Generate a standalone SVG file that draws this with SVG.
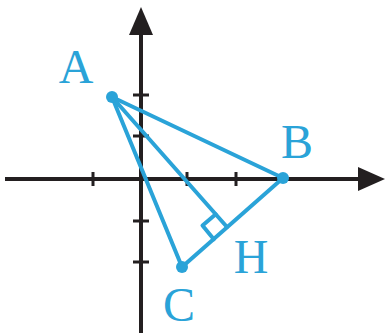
<svg xmlns="http://www.w3.org/2000/svg" width="387" height="333" viewBox="0 0 387 333">
<style>
.ax{stroke:#231f20;stroke-width:4;fill:none}
.tk{stroke:#231f20;stroke-width:3}
.bl{stroke:#2aa3d8;stroke-width:4;fill:none;stroke-linejoin:round;stroke-linecap:round}
.dot{fill:#2aa3d8}
.lb{font-family:'Liberation Serif','DejaVu Serif',serif;font-size:48px;fill:#2aa3d8;text-anchor:middle}
</style>
<rect width="387" height="333" fill="#fff"/>
<g id="axes">
<line class="ax" x1="5" y1="179" x2="360" y2="179"/>
<polygon points="358,167 385,179 358,191" fill="#231f20"/>
<line class="ax" x1="141" y1="333" x2="141" y2="33"/>
<polygon points="129,35 141,7 153,35" fill="#231f20"/>
<g class="tk">
<line x1="93" y1="172" x2="93" y2="186"/>
<line x1="187" y1="172" x2="187" y2="186"/>
<line x1="236" y1="172" x2="236" y2="186"/>
<line x1="133" y1="95" x2="149" y2="95"/>
<line x1="133" y1="136" x2="149" y2="136"/>
<line x1="133" y1="221" x2="149" y2="221"/>
<line x1="133" y1="262" x2="149" y2="262"/>
</g>
</g>
<g id="connectors">
<polygon class="bl" points="112,97 283,178 182,267"/>
<line class="bl" x1="112" y1="97" x2="227" y2="227"/>
<polyline class="bl" points="215.7,214.3 202.5,225.6 213.8,239.3"/>
</g>
<g id="A"><circle class="dot" cx="112" cy="97" r="6"/><text class="lb" x="76" y="83">A</text></g>
<g id="B"><circle class="dot" cx="283" cy="178" r="6"/><text class="lb" x="297" y="158">B</text></g>
<g id="C"><circle class="dot" cx="182" cy="267" r="6"/><text class="lb" x="179" y="321">C</text></g>
<g id="H"><text class="lb" x="251" y="273">H</text></g>
</svg>
